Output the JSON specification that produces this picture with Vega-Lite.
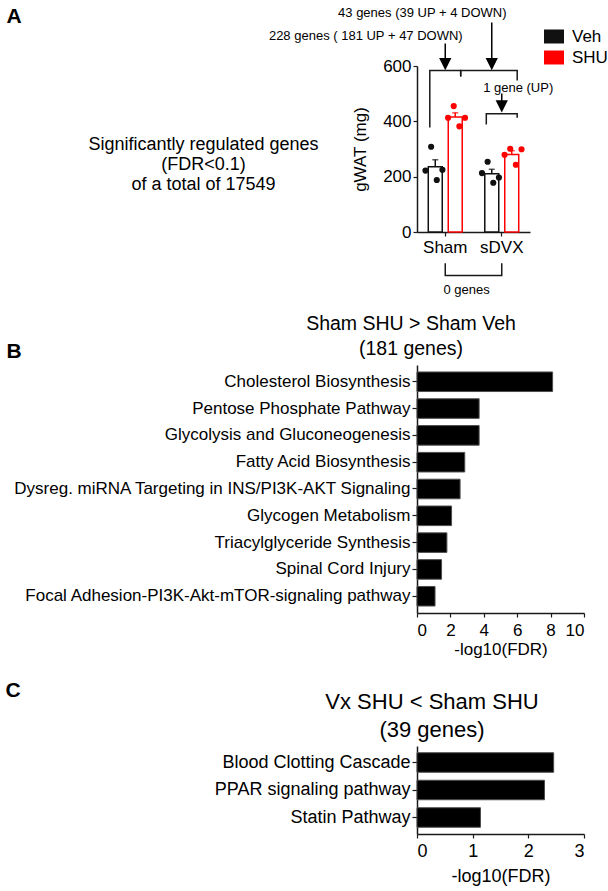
{
 "$schema": "https://vega.github.io/schema/vega-lite/v6.json",
 "background": "white",
 "padding": 5,
 "bounds": "flush",
 "spacing": 133,
 "config": {
  "font": "Liberation Sans",
  "view": {"stroke": null},
  "axis": {"grid": false, "domainColor": "#1a1a1a", "tickColor": "#1a1a1a", "labelColor": "#000", "titleColor": "#000", "domainWidth": 1.5, "tickWidth": 1.2},
  "title": {"color": "#000", "fontWeight": "normal"},
  "legend": {"labelColor": "#000"}
 },
 "datasets": {
  "gwat": [
   {"group": "Sham", "trt": "Veh", "mouse": "V1", "gWAT": 222},
   {"group": "Sham", "trt": "Veh", "mouse": "V2", "gWAT": 308},
   {"group": "Sham", "trt": "Veh", "mouse": "V3", "gWAT": 188},
   {"group": "Sham", "trt": "Veh", "mouse": "V4", "gWAT": 225},
   {"group": "Sham", "trt": "SHU", "mouse": "S1", "gWAT": 413},
   {"group": "Sham", "trt": "SHU", "mouse": "S2", "gWAT": 455},
   {"group": "Sham", "trt": "SHU", "mouse": "S3", "gWAT": 382},
   {"group": "Sham", "trt": "SHU", "mouse": "S4", "gWAT": 413},
   {"group": "sDVX", "trt": "Veh", "mouse": "V1", "gWAT": 213},
   {"group": "sDVX", "trt": "Veh", "mouse": "V2", "gWAT": 254},
   {"group": "sDVX", "trt": "Veh", "mouse": "V3", "gWAT": 178},
   {"group": "sDVX", "trt": "Veh", "mouse": "V4", "gWAT": 197},
   {"group": "sDVX", "trt": "SHU", "mouse": "S1", "gWAT": 279},
   {"group": "sDVX", "trt": "SHU", "mouse": "S2", "gWAT": 301},
   {"group": "sDVX", "trt": "SHU", "mouse": "S3", "gWAT": 243},
   {"group": "sDVX", "trt": "SHU", "mouse": "S4", "gWAT": 299}
  ],
  "brackets": [
   {"id": "b1", "group": "Sham", "trt": "Veh", "seq": 1, "y": 378},
   {"id": "b1", "group": "Sham", "trt": "Veh", "seq": 2, "y": 584},
   {"id": "b1", "group": "Sham", "trt": "SHU", "seq": 3, "y": 584},
   {"id": "b1", "group": "Sham", "trt": "SHU", "seq": 4, "y": 562},
   {"id": "b2", "group": "Sham", "trt": "SHU", "seq": 1, "y": 562},
   {"id": "b2", "group": "Sham", "trt": "SHU", "seq": 2, "y": 584},
   {"id": "b2", "group": "sDVX", "trt": "SHU", "seq": 3, "y": 584},
   {"id": "b2", "group": "sDVX", "trt": "SHU", "seq": 4, "y": 548},
   {"id": "b3", "group": "sDVX", "trt": "Veh", "seq": 1, "y": 389},
   {"id": "b3", "group": "sDVX", "trt": "Veh", "seq": 2, "y": 427},
   {"id": "b3", "group": "sDVX", "trt": "SHU", "seq": 3, "y": 427},
   {"id": "b3", "group": "sDVX", "trt": "SHU", "seq": 4, "y": 413}
  ],
  "bracket0": [
   {"group": "Sham", "seq": 1, "y": -113},
   {"group": "Sham", "seq": 2, "y": -157},
   {"group": "sDVX", "seq": 3, "y": -157},
   {"group": "sDVX", "seq": 4, "y": -113}
  ],
  "arrowsMid": [
   {"group": "Sham", "top": 681, "head": 607},
   {"group": "sDVX", "top": 501, "head": 454}
  ],
  "arrowsOff": [
   {"group": "sDVX", "trt": "Veh", "top": 757, "head": 607}
  ],
  "notesVeh": [
   {"group": "Sham", "trt": "Veh", "y": 707, "label": "228 genes ( 181 UP + 47 DOWN)"},
   {"group": "sDVX", "trt": "Veh", "y": 793, "label": "43 genes (39 UP + 4 DOWN)"}
  ],
  "note1": [{"group": "sDVX", "trt": "SHU", "y": 522, "label": "1 gene (UP)"}],
  "note0": [{"y": -211, "label": "0 genes"}],
  "block": [{"y": 314, "label": "Significantly regulated genes\n(FDR<0.1)\nof a total of 17549"}],
  "pathB": [
   {"pathway": "Cholesterol Biosynthesis", "negLog10FDR": 8.12},
   {"pathway": "Pentose Phosphate Pathway", "negLog10FDR": 3.72},
   {"pathway": "Glycolysis and Gluconeogenesis", "negLog10FDR": 3.72},
   {"pathway": "Fatty Acid Biosynthesis", "negLog10FDR": 2.86},
   {"pathway": "Dysreg. miRNA Targeting in INS/PI3K-AKT Signaling", "negLog10FDR": 2.58},
   {"pathway": "Glycogen Metabolism", "negLog10FDR": 2.07},
   {"pathway": "Triacylglyceride Synthesis", "negLog10FDR": 1.79},
   {"pathway": "Spinal Cord Injury", "negLog10FDR": 1.47},
   {"pathway": "Focal Adhesion-PI3K-Akt-mTOR-signaling pathway", "negLog10FDR": 1.08}
  ],
  "pathC": [
   {"pathway": "Blood Clotting Cascade", "negLog10FDR": 2.455},
   {"pathway": "PPAR signaling pathway", "negLog10FDR": 2.29},
   {"pathway": "Statin Pathway", "negLog10FDR": 1.14}
  ]
 },
 "vconcat": [
  {
   "width": 113,
   "height": 166,
   "resolve": {"scale": {"xOffset": "independent"}},
   "layer": [
    {
     "data": {"name": "gwat"},
     "mark": {"type": "errorbar", "extent": "stderr", "ticks": {"size": 6, "thickness": 1.5}, "rule": {"strokeWidth": 1.5}},
     "encoding": {
      "x": {"field": "group", "type": "nominal", "scale": {"domain": ["Sham", "sDVX"], "paddingInner": 0.3, "paddingOuter": 0.15},
       "axis": {"title": "A", "titleFontSize": 21, "titleFontWeight": "bold", "titleX": -411, "titleY": -209.5, "titleAlign": "left", "titleBaseline": "alphabetic", "titleAngle": 0, "labelFontSize": 17, "labelAngle": 0, "tickSize": 4, "labelPadding": 3}},
      "xOffset": {"field": "trt", "type": "nominal", "scale": {"domain": ["Veh", "SHU"], "paddingInner": 0.3, "paddingOuter": 0.14}},
      "y": {"field": "gWAT", "type": "quantitative", "scale": {"domain": [0, 600], "nice": false},
       "axis": {"title": "gWAT (mg)", "values": [0, 200, 400, 600], "titleFontSize": 17, "titleFontWeight": "normal", "labelFontSize": 17, "tickSize": 4, "labelPadding": 2, "titlePadding": 13}},
      "color": {"field": "trt", "type": "nominal", "scale": {"domain": ["Veh", "SHU"], "range": ["#111111", "#ff0000"]},
       "legend": {"title": null, "orient": "none", "legendX": 127, "legendY": -39.5, "symbolType": "M-1,-0.7H1V0.7H-1Z", "symbolSize": 400, "symbolStrokeWidth": 0, "labelFontSize": 17, "labelOffset": 8, "rowPadding": 3, "padding": 0,
        "encode": {"symbols": {"update": {"fill": {"scale": "color", "field": "value"}, "fillOpacity": {"value": 1}, "opacity": {"value": 1}}}}}}
     }
    },
    {
     "data": {"name": "gwat"},
     "mark": {"type": "bar", "fill": "white", "strokeWidth": 0},
     "encoding": {
      "x": {"field": "group", "type": "nominal", "scale": {"domain": ["Sham", "sDVX"], "paddingInner": 0.3, "paddingOuter": 0.15}},
      "xOffset": {"field": "trt", "type": "nominal", "scale": {"domain": ["Veh", "SHU"], "paddingInner": 0.3, "paddingOuter": 0.14}},
      "y": {"aggregate": "mean", "field": "gWAT", "type": "quantitative", "scale": {"domain": [0, 600], "nice": false}}
     }
    },
    {
     "data": {"name": "gwat"},
     "mark": {"type": "bar", "filled": false, "strokeWidth": 1.5},
     "encoding": {
      "x": {"field": "group", "type": "nominal", "scale": {"domain": ["Sham", "sDVX"], "paddingInner": 0.3, "paddingOuter": 0.15}},
      "xOffset": {"field": "trt", "type": "nominal", "scale": {"domain": ["Veh", "SHU"], "paddingInner": 0.3, "paddingOuter": 0.14}},
      "y": {"aggregate": "mean", "field": "gWAT", "type": "quantitative", "scale": {"domain": [0, 600], "nice": false}},
      "color": {"field": "trt", "type": "nominal", "scale": {"domain": ["Veh", "SHU"], "range": ["#111111", "#ff0000"]},
       "legend": {"title": null, "orient": "none", "legendX": 127, "legendY": -39.5, "symbolType": "M-1,-0.7H1V0.7H-1Z", "symbolSize": 400, "symbolStrokeWidth": 0, "labelFontSize": 17, "labelOffset": 8, "rowPadding": 3, "padding": 0,
        "encode": {"symbols": {"update": {"fill": {"scale": "color", "field": "value"}, "fillOpacity": {"value": 1}, "opacity": {"value": 1}}}}}}
     }
    },
    {
     "data": {"name": "gwat"},
     "mark": {"type": "circle", "size": 38, "opacity": 1},
     "encoding": {
      "x": {"field": "group", "type": "nominal", "scale": {"domain": ["Sham", "sDVX"], "paddingInner": 0.3, "paddingOuter": 0.15}},
      "xOffset": {"field": "mouse", "type": "nominal", "scale": {"domain": ["V1", "V2", "V3", "V4", "S1", "S2", "S3", "S4"], "paddingInner": 0, "paddingOuter": 0}},
      "y": {"field": "gWAT", "type": "quantitative", "scale": {"domain": [0, 600], "nice": false}},
      "color": {"field": "trt", "type": "nominal", "scale": {"domain": ["Veh", "SHU"], "range": ["#111111", "#ff0000"]},
       "legend": {"title": null, "orient": "none", "legendX": 127, "legendY": -39.5, "symbolType": "M-1,-0.7H1V0.7H-1Z", "symbolSize": 400, "symbolStrokeWidth": 0, "labelFontSize": 17, "labelOffset": 8, "rowPadding": 3, "padding": 0,
        "encode": {"symbols": {"update": {"fill": {"scale": "color", "field": "value"}, "fillOpacity": {"value": 1}, "opacity": {"value": 1}}}}}}
     }
    },
    {
     "data": {"name": "brackets"},
     "mark": {"type": "line", "color": "#1a1a1a", "strokeWidth": 1.5},
     "encoding": {
      "x": {"field": "group", "type": "nominal", "scale": {"domain": ["Sham", "sDVX"], "paddingInner": 0.3, "paddingOuter": 0.15}},
      "xOffset": {"field": "trt", "type": "nominal", "scale": {"domain": ["Veh", "SHU"], "paddingInner": 0.3, "paddingOuter": 0.14}},
      "y": {"field": "y", "type": "quantitative", "scale": {"domain": [0, 600], "nice": false}},
      "detail": {"field": "id"},
      "order": {"field": "seq", "type": "quantitative"}
     }
    },
    {
     "data": {"name": "bracket0"},
     "mark": {"type": "line", "color": "#1a1a1a", "strokeWidth": 1.5},
     "encoding": {
      "x": {"field": "group", "type": "nominal", "scale": {"domain": ["Sham", "sDVX"], "paddingInner": 0.3, "paddingOuter": 0.15}},
      "y": {"field": "y", "type": "quantitative", "scale": {"domain": [0, 600], "nice": false}},
      "order": {"field": "seq", "type": "quantitative"}
     }
    },
    {
     "data": {"name": "arrowsMid"},
     "encoding": {
      "x": {"field": "group", "type": "nominal", "scale": {"domain": ["Sham", "sDVX"], "paddingInner": 0.3, "paddingOuter": 0.15}}
     },
     "layer": [
      {"mark": {"type": "rule", "color": "#000", "strokeWidth": 1.5},
       "encoding": {"y": {"field": "top", "type": "quantitative", "scale": {"domain": [0, 600], "nice": false}}, "y2": {"field": "head"}}},
      {"mark": {"type": "point", "shape": "M-1,-1L1,-1L0,1Z", "filled": true, "size": 150, "color": "#000", "opacity": 1},
       "encoding": {"y": {"field": "head", "type": "quantitative", "scale": {"domain": [0, 600], "nice": false}}}}
     ]
    },
    {
     "data": {"name": "arrowsOff"},
     "encoding": {
      "x": {"field": "group", "type": "nominal", "scale": {"domain": ["Sham", "sDVX"], "paddingInner": 0.3, "paddingOuter": 0.15}},
      "xOffset": {"field": "trt", "type": "nominal", "scale": {"domain": ["Veh", "SHU"], "paddingInner": 0.3, "paddingOuter": 0.14}}
     },
     "layer": [
      {"mark": {"type": "rule", "color": "#000", "strokeWidth": 1.5},
       "encoding": {"y": {"field": "top", "type": "quantitative", "scale": {"domain": [0, 600], "nice": false}}, "y2": {"field": "head"}}},
      {"mark": {"type": "point", "shape": "M-1,-1L1,-1L0,1Z", "filled": true, "size": 150, "color": "#000", "opacity": 1},
       "encoding": {"y": {"field": "head", "type": "quantitative", "scale": {"domain": [0, 600], "nice": false}}}}
     ]
    },
    {
     "data": {"name": "notesVeh"},
     "mark": {"type": "text", "fontSize": 13, "dx": -64, "baseline": "middle", "align": "center", "color": "#000"},
     "encoding": {
      "x": {"field": "group", "type": "nominal", "scale": {"domain": ["Sham", "sDVX"], "paddingInner": 0.3, "paddingOuter": 0.15}},
      "xOffset": {"field": "trt", "type": "nominal", "scale": {"domain": ["Veh", "SHU"], "paddingInner": 0.3, "paddingOuter": 0.14}},
      "y": {"field": "y", "type": "quantitative", "scale": {"domain": [0, 600], "nice": false}},
      "text": {"field": "label"}
     }
    },
    {
     "data": {"name": "note1"},
     "mark": {"type": "text", "fontSize": 13, "dx": 1, "baseline": "middle", "align": "center", "color": "#000"},
     "encoding": {
      "x": {"field": "group", "type": "nominal", "scale": {"domain": ["Sham", "sDVX"], "paddingInner": 0.3, "paddingOuter": 0.15}},
      "xOffset": {"field": "trt", "type": "nominal", "scale": {"domain": ["Veh", "SHU"], "paddingInner": 0.3, "paddingOuter": 0.14}},
      "y": {"field": "y", "type": "quantitative", "scale": {"domain": [0, 600], "nice": false}},
      "text": {"field": "label"}
     }
    },
    {
     "data": {"name": "note0"},
     "mark": {"type": "text", "fontSize": 13, "dx": -7, "baseline": "middle", "align": "center", "color": "#000"},
     "encoding": {
      "y": {"field": "y", "type": "quantitative", "scale": {"domain": [0, 600], "nice": false}},
      "text": {"field": "label"}
     }
    },
    {
     "data": {"name": "block"},
     "mark": {"type": "text", "fontSize": 18, "lineBreak": "\n", "lineHeight": 20, "dx": -270, "baseline": "middle", "align": "center", "color": "#000"},
     "encoding": {
      "y": {"field": "y", "type": "quantitative", "scale": {"domain": [0, 600], "nice": false}},
      "text": {"field": "label"}
     }
    }
   ]
  },
  {
   "width": 167,
   "height": 248,
   "data": {"name": "pathB"},
   "title": {"text": ["Sham SHU > Sham Veh", "(181 genes)"], "fontSize": 19.5, "lineHeight": 25, "anchor": "middle", "frame": "group", "dx": -89.5, "offset": -19},
   "mark": {"type": "bar", "fill": "#000", "stroke": "#4d4d4d", "strokeWidth": 1},
   "encoding": {
    "y": {"field": "pathway", "type": "nominal", "sort": null, "scale": {"paddingInner": 0.27, "paddingOuter": 0.26},
     "axis": {"title": "B", "titleFontSize": 21, "titleFontWeight": "bold", "titleAngle": 0, "titleX": -411, "titleY": -8, "titleAlign": "left", "titleBaseline": "alphabetic", "labelFontSize": 17, "labelLimit": 0, "tickSize": 5, "labelPadding": 2}},
    "x": {"field": "negLog10FDR", "type": "quantitative", "scale": {"domain": [0, 10], "nice": false},
     "axis": {"values": [0, 2, 4, 6, 8, 10], "title": "-log10(FDR)", "titleFontSize": 17, "titleFontWeight": "normal", "labelFontSize": 17, "tickSize": 4, "labelPadding": 5, "titlePadding": 3}}
   }
  },
  {
   "width": 167,
   "height": 88,
   "data": {"name": "pathC"},
   "title": {"text": ["Vx SHU < Sham SHU", "(39 genes)"], "fontSize": 22, "lineHeight": 28, "anchor": "middle", "frame": "group", "dx": -68.5, "offset": -63},
   "mark": {"type": "bar", "fill": "#000", "stroke": "#4d4d4d", "strokeWidth": 1},
   "encoding": {
    "y": {"field": "pathway", "type": "nominal", "sort": null, "scale": {"paddingInner": 0.29, "paddingOuter": 0.245},
     "axis": {"title": "C", "titleFontSize": 21, "titleFontWeight": "bold", "titleAngle": 0, "titleX": -412, "titleY": -50, "titleAlign": "left", "titleBaseline": "alphabetic", "labelFontSize": 18, "labelLimit": 0, "tickSize": 5, "labelPadding": 2}},
    "x": {"field": "negLog10FDR", "type": "quantitative", "scale": {"domain": [0, 3], "nice": false},
     "axis": {"values": [0, 1, 2, 3], "title": "-log10(FDR)", "titleFontSize": 18, "titleFontWeight": "normal", "labelFontSize": 18, "tickSize": 4, "labelPadding": 4, "titlePadding": 7}}
   }
  }
 ]
}
